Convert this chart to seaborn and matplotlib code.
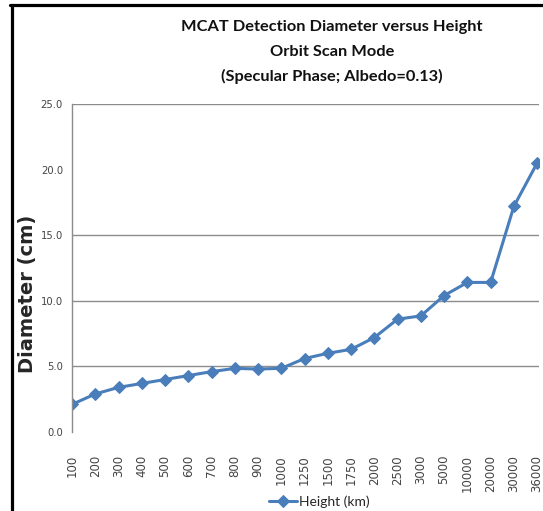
import matplotlib
matplotlib.use("Agg")
import matplotlib.pyplot as plt
import seaborn as sns
import pandas as pd
from matplotlib.lines import Line2D

# Dados
alturas = ["100", "200", "300", "400", "500", "600", "700", "800", "900", "1000",
           "1250", "1500", "1750", "2000", "2500", "3000", "5000", "10000", "20000",
           "30000", "36000"]
diametros = [2.1, 2.9, 3.4, 3.7, 4.0, 4.3, 4.6, 4.85, 4.8, 4.85,
             5.6, 6.0, 6.3, 7.2, 8.6, 8.85, 10.4, 11.4, 11.4, 17.2, 20.5]
yticks = [0, 5, 10, 15, 20, 25]
grid_visiveis = [5, 10, 15, 25]

df = pd.DataFrame({"altura": alturas, "diametro": diametros})
df["pos"] = range(len(df))

sns.set_style("white")
plt.rcParams["font.family"] = ["DejaVu Sans"]

fig = plt.figure(figsize=(5.43, 5.11), dpi=100)
ax = fig.add_axes([72 / 543, 1 - 432 / 511, 467 / 543, 328 / 511])

azul = "#4A7EBB"
sns.lineplot(data=df, x="pos", y="diametro", ax=ax, color=azul, lw=2.2,
             marker="D", markersize=6.5, markeredgecolor=azul, label="Height (km)")

for g in grid_visiveis:
    ax.axhline(g, color="#8c8c8c", lw=1, zorder=0)

ax.set_ylim(0, 25)
ax.set_xlim(0, len(alturas) - 1 + 0.08)
ax.set_yticks(yticks)
ax.set_yticklabels([f"{v:.1f}" for v in yticks], fontsize=8, color="#444444",
                   fontstretch="condensed")
ax.set_xticks(df["pos"])
ax.set_xticklabels(alturas, rotation=90, fontsize=8.5, color="#444444", va="top")
ax.tick_params(axis="both", length=0)
ax.tick_params(axis="y", pad=6.5)
ax.tick_params(axis="x", pad=16.5)

for s in ["top", "right", "bottom"]:
    ax.spines[s].set_visible(False)
ax.spines["left"].set_color("#8c8c8c")
ax.spines["left"].set_linewidth(1)

ax.set_xlabel("")
ax.set_ylabel("Diameter (cm)", fontsize=14, fontweight="bold")
ax.yaxis.set_label_coords(-35 / 467, 0.42)

ax.get_legend().remove()
h, l = ax.get_legend_handles_labels()
fig.legend(h, l, loc="center", bbox_to_anchor=(319 / 543, 1 - 502 / 511),
           frameon=False, handlelength=2.0, handletextpad=0.15,
           prop={"family": ["Lato", "DejaVu Sans"], "size": 10})

titulo = ["MCAT Detection Diameter versus Height", "Orbit Scan Mode",
          "(Specular Phase; Albedo=0.13)"]
for i, linha in enumerate(titulo):
    fig.text(332 / 543, 1 - (27 + 24.5 * i) / 511, linha, ha="center", va="center",
             fontsize=11.8, fontweight="bold", color="#111111",
             family=["Lato", "DejaVu Sans"])

# moldura preta (esquerda e topo)
fig.add_artist(Line2D([11.5 / 543, 11.5 / 543], [0, 1 - 4.8 / 511],
                      transform=fig.transFigure, color="black", lw=2.3))
fig.add_artist(Line2D([10.4 / 543, 1], [1 - 4.8 / 511, 1 - 4.8 / 511],
                      transform=fig.transFigure, color="black", lw=2.3))

fig.savefig("out.png", dpi=100)
